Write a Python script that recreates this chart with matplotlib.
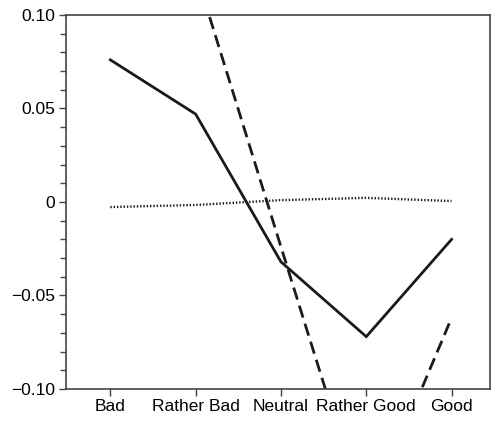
import matplotlib
matplotlib.use('Agg')
import matplotlib.pyplot as plt
from matplotlib.ticker import MultipleLocator

plt.rcParams['font.family'] = ['Liberation Sans', 'DejaVu Sans']

categories = ['Bad', 'Rather Bad', 'Neutral', 'Rather Good', 'Good']
solid_vals = [0.076, 0.047, -0.032, -0.072, -0.020]
dashed_vals = [0.27, 0.123, -0.024, -0.170, -0.062]
dotted_vals = [-0.0027, -0.0016, 0.001, 0.0022, 0.0005]

fig = plt.figure(figsize=(4.97, 4.21), dpi=100)
ax = fig.add_axes([0.1328, 0.076, 0.853, 0.8884])

x = list(range(len(categories)))
ax.plot(x, solid_vals, color='#1a1a1a', linewidth=2.0, solid_joinstyle='miter')
ax.plot(x, dashed_vals, color='#1a1a1a', linewidth=2.0, dashes=(4.5, 2.3))
ax.plot(x, dotted_vals, color='#1a1a1a', linewidth=1.7, dashes=(0.6, 0.8))

ax.set_xlim(-0.52, 4.45)
ax.set_ylim(-0.10, 0.10)
ax.set_xticks(x)
ax.set_xticklabels(categories)
ax.set_yticks([-0.10, -0.05, 0, 0.05, 0.10])
ax.set_yticklabels(['\u22120.10', '\u22120.05', '0', '0.05', '0.10'])
ax.yaxis.set_minor_locator(MultipleLocator(0.01))

for s in ax.spines.values():
    s.set_color('#444444')
    s.set_linewidth(1.2)
ax.tick_params(which='major', direction='out', length=5, width=1, color='#444444',
               labelsize=12.5, pad=3)
ax.tick_params(which='minor', direction='out', length=4, width=1, color='#444444')
ax.tick_params(axis='x', pad=2)

fig.savefig('out.png', dpi=100)
